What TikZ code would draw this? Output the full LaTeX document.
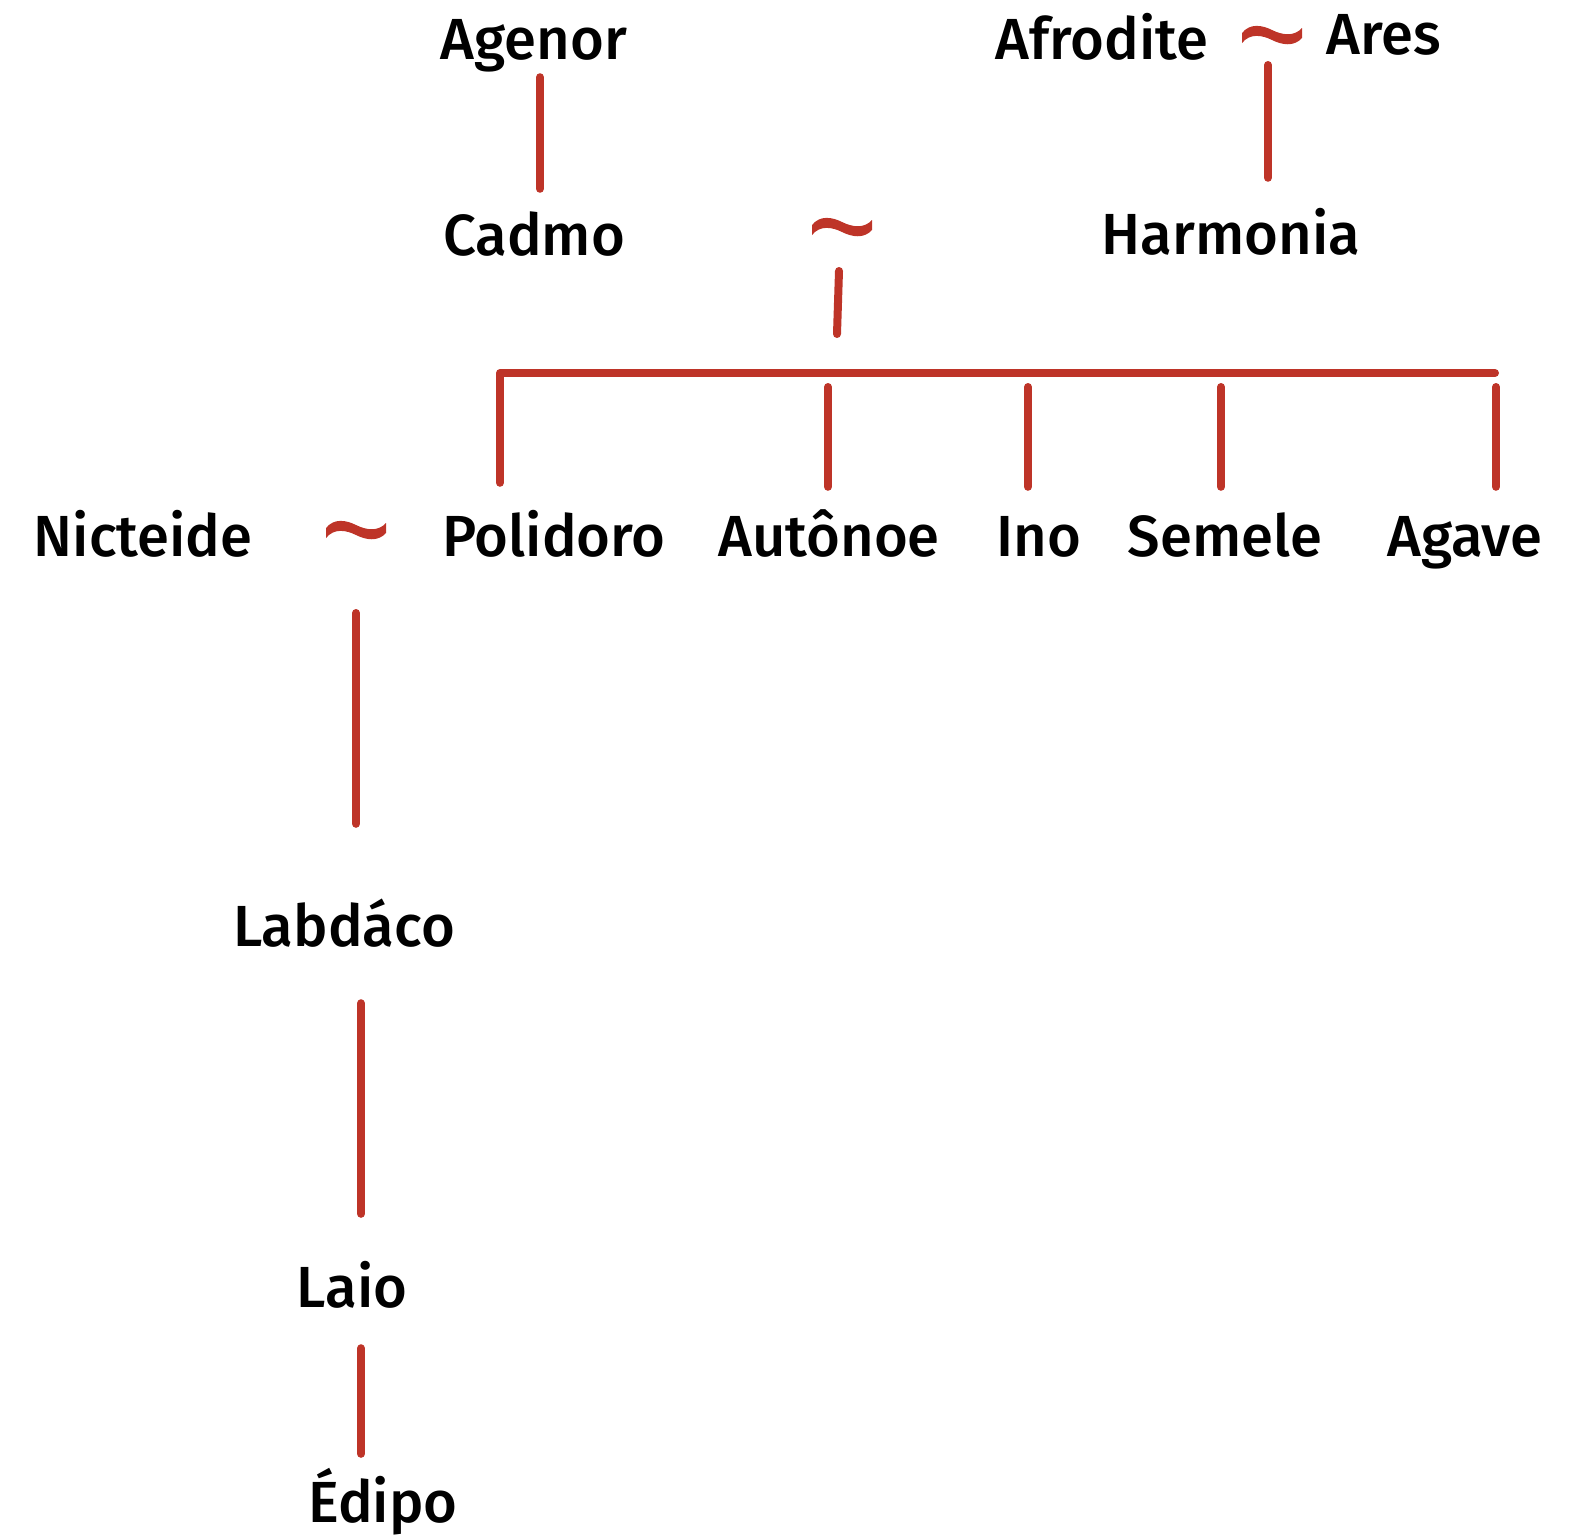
\documentclass[tikz,border=0pt]{standalone}
\usepackage{fontspec}
\setmainfont{Fira Sans}[UprightFont={* Medium}]
\usepackage{xcolor}
\usepackage{tikz}
\usetikzlibrary{positioning}

\definecolor{tred}{RGB}{190,52,40}

\tikzset{
  line/.style={draw=tred,line width=8pt,line cap=round},
  tie/.pic={\fill[tred]
    (-30,-2) .. controls (-22,-12) and (-10,-10) .. (0,-5)
    .. controls (10,0) and (22,2) .. (30,-7) -- (30,3)
    .. controls (22,12) and (10,10) .. (0,5)
    .. controls (-10,0) and (-22,-2) .. (-30,8) -- cycle;}
}

\begin{document}
\begin{tikzpicture}[x=1pt,y=-1pt]
        \useasboundingbox (0,0) rectangle (1591,1535);
        \begin{scope}[every node/.style={anchor=base,inner sep=0pt,text height=42pt,text depth=13pt,font=\fontsize{58}{70}\selectfont}]
          \node (agenor) at (534,59) {Agenor};
          \node (cadmo) at (534,255) {Cadmo};
          \node (afrodite) at (1102,59) {Afrodite};
          \node (ares) at (1384,54) {Ares};
          \node (harmonia) at (1231,254) {Harmonia};
          \node (nicteide) at (143,556) {Nicteide};
          \node (polidoro) at (554,556) {Polidoro};
          \node (autonoe) at (829,556) {Autônoe};
          \node (ino) at (1039,556) {Ino};
          \node (semele) at (1225,556) {Semele};
          \node (agave) at (1465,556) {Agave};
          \node (labdaco) at (344,946) {Labdáco};
          \node (laio) at (352,1307) {Laio};
          \node (edipo) at (383,1522) {Édipo};
        \end{scope}
        % marriages
        \coordinate (tAA) at (1272,35);
        \coordinate (tCH) at (842,227);
        \coordinate (tNP) at (356,530);
        \pic at (tAA) {tie};
        \pic at (tCH) {tie};
        \pic at (tNP) {tie};
        \coordinate (bar) at (1495,373);
        \begin{scope}[every edge/.style={line}]
          \path ([xshift=6pt]agenor.south) edge[shorten <=5pt,shorten >=24pt] ([xshift=6pt]cadmo.north);
          \path ([xshift=-4pt]tAA) edge[shorten <=30pt,shorten >=34pt] ([xshift=-4pt]tAA |- harmonia.north);
          \path (tCH) ++(-3,44) edge (837,334);
          \path (tNP) edge[shorten <=83pt,shorten >=80pt] (tNP |- labdaco.north);
          \path ([xshift=17pt]labdaco.south) edge[shorten <=44pt,shorten >=51pt] ([xshift=17pt]labdaco.south |- laio.north);
          \path ([xshift=9pt]laio.south) edge[shorten <=28pt,shorten >=26pt] ([xshift=9pt]laio.south |- edipo.north);
          \foreach \n/\dx in {autonoe/-1pt,ino/-11pt,semele/-4pt,agave/31pt}
            \path ([xshift=\dx]\n.north) edge[shorten <=27pt,shorten >=14pt] ([xshift=\dx]\n.north |- bar);
        \end{scope}
        \draw[line,line join=round] ([xshift=-54pt]polidoro.north) ++(0,-31) |- (bar);
      \end{tikzpicture}
\end{document}
